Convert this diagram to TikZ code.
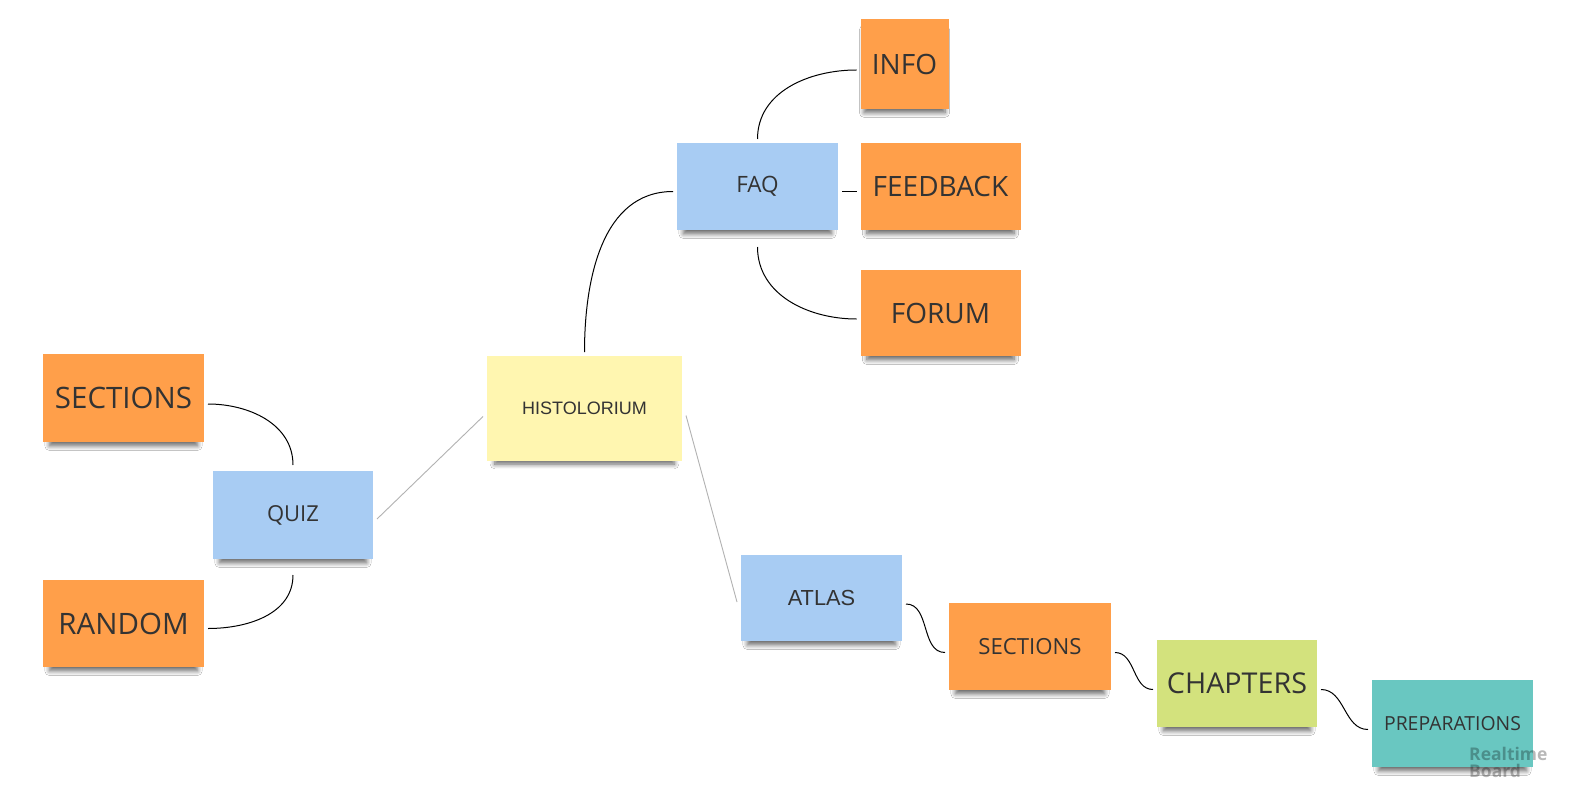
\documentclass[tikz,border=0pt]{standalone}
\usepackage{fontspec}
\setmainfont{Open Sans}
\newfontfamily\arialf{Liberation Sans}
\usetikzlibrary{shadows.blur}
\definecolor{orangeN}{HTML}{FF9F4A}
\definecolor{blueN}{HTML}{A8CCF3}
\definecolor{yellowN}{HTML}{FFF6B0}
\definecolor{greenN}{HTML}{D3E27D}
\definecolor{tealN}{HTML}{69C7C1}
\definecolor{textN}{HTML}{333333}
\begin{document}
\begin{tikzpicture}[x=1pt,y=-1pt,
  note/.style={rectangle, inner sep=0pt, outer sep=4pt, text=textN,
    blur shadow={shadow xshift=0pt, shadow yshift=-8pt, shadow scale=0.92,
      shadow blur steps=8, shadow blur radius=5pt, shadow opacity=60}},
  orangenote/.style={note, fill=orangeN},
  bluenote/.style={note, fill=blueN},
  big/.style={font=\fontsize{28}{30}\selectfont},
  link/.style={draw=black, line width=1pt},
  glink/.style={draw=black!30, line width=0.9pt}]
\useasboundingbox (0,0) rectangle (1570,805);
\fill[white] (0,0) rectangle (1570,805);

% nodes
\node[orangenote, big, minimum width=88pt, minimum height=90pt] (info) at (904.5,64) {INFO};
\node[orangenote, big, minimum width=160pt, minimum height=87pt] (feedback) at (940.5,186.5) {FEEDBACK};
\node[orangenote, big, minimum width=160pt, minimum height=86pt] (forum) at (940.5,313) {FORUM};
\node[bluenote, font=\fontsize{22.5}{24}\selectfont, minimum width=161pt, minimum height=87pt] (faq) at (757.5,186.5) {FAQ};
\node[note, fill=yellowN, font=\arialf\fontsize{18}{20}\selectfont, minimum width=195pt, minimum height=105pt] (hist) at (584.5,408.5) {HISTOLORIUM};
\node[orangenote, font=\fontsize{29.5}{31}\selectfont, minimum width=161pt, minimum height=88pt] (secL) at (123.5,398) {SECTIONS};
\node[bluenote, font=\fontsize{22}{24}\selectfont, minimum width=160pt, minimum height=88pt] (quiz) at (293,515) {QUIZ};
\node[orangenote, font=\fontsize{29.5}{31}\selectfont, minimum width=161pt, minimum height=87pt] (random) at (123.5,623.5) {RANDOM};
\node[bluenote, font=\arialf\fontsize{21.8}{24}\selectfont, minimum width=161pt, minimum height=86pt] (atlas) at (821.5,598) {ATLAS};
\node[orangenote, font=\fontsize{22.2}{24}\selectfont, minimum width=162pt, minimum height=87pt] (secR) at (1030,646.5) {SECTIONS};
\node[note, fill=greenN, font=\fontsize{28.7}{30}\selectfont, minimum width=160pt, minimum height=87pt] (chap) at (1237,683.5) {CHAPTERS};
\node[note, fill=tealN, font=\fontsize{19.4}{21}\selectfont, minimum width=161pt, minimum height=87pt] (prep) at (1452.5,723.5) {PREPARATIONS};

% connectors
\draw[link] (hist.north) to[out=90,in=180] ([yshift=-5pt]faq.west);
\draw[link] (faq.north) to[out=90,in=180] ([yshift=-6pt]info.west);
\draw[link] ([yshift=-5pt]faq.east) -- ([yshift=-5pt]feedback.west);
\draw[link] ([yshift=-13pt]faq.south) to[out=-90,in=180] ([yshift=-6pt]forum.west);
\draw[link] ([yshift=-6pt]secL.east) to[out=0,in=90] ([yshift=2pt]quiz.north);
\draw[link] ([yshift=-12pt]quiz.south) to[out=-90,in=0] ([yshift=-5pt]random.east);
\draw[glink] ([yshift=-4pt]quiz.east) -- ([yshift=-8pt]hist.west);
\draw[glink] ([yshift=-7pt]hist.east) -- ([yshift=-4pt]atlas.west);
\draw[link] ([yshift=-6pt]atlas.east) to[out=0,in=180] ([yshift=-6pt]secR.west);
\draw[link] ([yshift=-6pt]secR.east) to[out=0,in=180] ([yshift=-6pt]chap.west);
\draw[link] ([yshift=-6pt]chap.east) to[out=0,in=180] ([yshift=-6pt]prep.west);

% watermark
\node[anchor=north west, inner sep=0pt, text=black, text opacity=0.28,
  font=\bfseries\fontsize{17.5}{17}\selectfont, align=left] (wm) at (1469,747) {Realtime\\Board};
\end{tikzpicture}
\end{document}
